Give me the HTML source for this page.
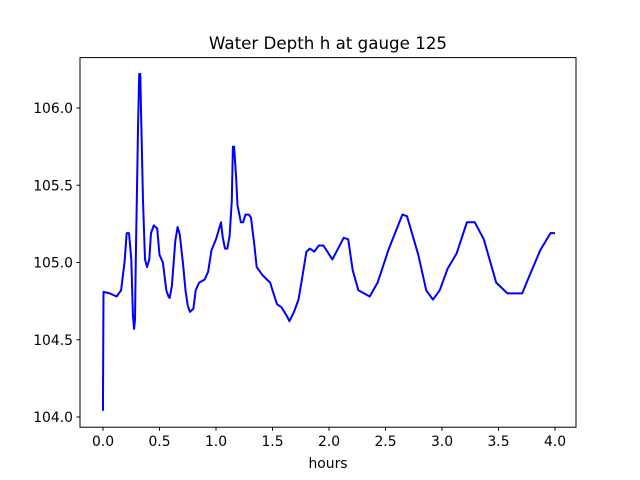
<!DOCTYPE html>
<html><head><meta charset="utf-8"><style>
body{margin:0;background:#fff}
svg{display:block;font-family:"DejaVu Sans","Liberation Sans",sans-serif}
</style></head><body>
<svg id="chart" width="640" height="480">
<rect x="0" y="0" width="640" height="480" fill="#fff"/>
<text x="328" y="49" font-size="16.7" text-anchor="middle">Water Depth h at gauge 125</text>
<g id="xt"></g>
<g id="yt"></g>
<polyline id="line" fill="none" stroke="#0000ff" stroke-width="2" stroke-linejoin="round"/>
<rect x="80" y="57.6" width="496" height="369.6" fill="none" stroke="#000" stroke-width="1"/>
<text x="328" y="468" font-size="13.9" text-anchor="middle">hours</text>
</svg>
<script>
const hours=[0,0,0.004,0.06,0.12,0.16,0.19,0.21,0.23,0.25,0.265,0.275,0.283,0.29,0.31,0.32,0.33,0.336,0.354,0.372,0.39,0.41,0.425,0.45,0.48,0.5,0.53,0.56,0.58,0.59,0.61,0.64,0.66,0.68,0.71,0.73,0.75,0.77,0.8,0.82,0.85,0.9,0.93,0.96,1.0,1.044,1.06,1.08,1.1,1.12,1.14,1.15,1.16,1.18,1.19,1.22,1.24,1.26,1.29,1.31,1.34,1.36,1.41,1.45,1.48,1.5,1.54,1.58,1.63,1.65,1.69,1.73,1.76,1.8,1.83,1.87,1.91,1.95,2.03,2.13,2.17,2.21,2.26,2.36,2.43,2.53,2.65,2.69,2.79,2.86,2.92,2.98,3.05,3.13,3.22,3.29,3.37,3.48,3.58,3.71,3.76,3.87,3.96,4.0];
const depth=[104.04,104.14,104.81,104.8,104.78,104.82,105.0,105.19,105.19,105.02,104.66,104.57,104.63,105.02,105.86,106.22,106.22,105.99,105.4,105.02,104.97,105.02,105.19,105.24,105.22,105.05,105.0,104.82,104.78,104.77,104.85,105.14,105.23,105.18,104.98,104.82,104.72,104.68,104.7,104.82,104.87,104.89,104.94,105.08,105.15,105.26,105.16,105.09,105.09,105.17,105.4,105.75,105.75,105.53,105.37,105.26,105.26,105.31,105.31,105.29,105.11,104.97,104.92,104.89,104.87,104.82,104.73,104.71,104.65,104.62,104.68,104.76,104.89,105.07,105.09,105.07,105.11,105.11,105.02,105.16,105.15,104.95,104.82,104.78,104.87,105.09,105.31,105.3,105.05,104.82,104.76,104.82,104.96,105.06,105.26,105.26,105.15,104.87,104.8,104.8,104.89,105.08,105.19,105.19];
const xTicks=[0,0.5,1,1.5,2,2.5,3,3.5,4];
const yTicks=[104,104.5,105,105.5,106];
const sx=h=>103+h*113;
const sy=v=>417-(v-104)*154.5;
const NS="http://www.w3.org/2000/svg";
const line=document.getElementById('line');
line.setAttribute('points',hours.map((h,i)=>sx(h).toFixed(1)+','+sy(depth[i]).toFixed(1)).join(' '));
const xt=document.getElementById('xt'),yt=document.getElementById('yt');
xTicks.forEach(t=>{
 const l=document.createElementNS(NS,'line');
 
 
 l.setAttribute('x1',sx(t));l.setAttribute('x2',sx(t));l.setAttribute('y1',427.2);l.setAttribute('y2',430.7);l.setAttribute('stroke','#000');
 xt.appendChild(l);
 const tx=document.createElementNS(NS,'text');
 
 
 tx.setAttribute('x',sx(t));tx.setAttribute('y',446);tx.setAttribute('font-size','13.9');tx.setAttribute('text-anchor','middle');
 tx.textContent=t.toFixed(1);xt.appendChild(tx);
});
yTicks.forEach(t=>{
 const l=document.createElementNS(NS,'line');
 
 
 l.setAttribute('x1',76.5);l.setAttribute('x2',80);l.setAttribute('y1',sy(t));l.setAttribute('y2',sy(t));l.setAttribute('stroke','#000');
 yt.appendChild(l);
 const tx=document.createElementNS(NS,'text');
 
 
 tx.setAttribute('x',73);tx.setAttribute('y',sy(t)+5);tx.setAttribute('font-size','13.9');tx.setAttribute('text-anchor','end');
 tx.textContent=t.toFixed(1);yt.appendChild(tx);
});
</script>
</body></html>
